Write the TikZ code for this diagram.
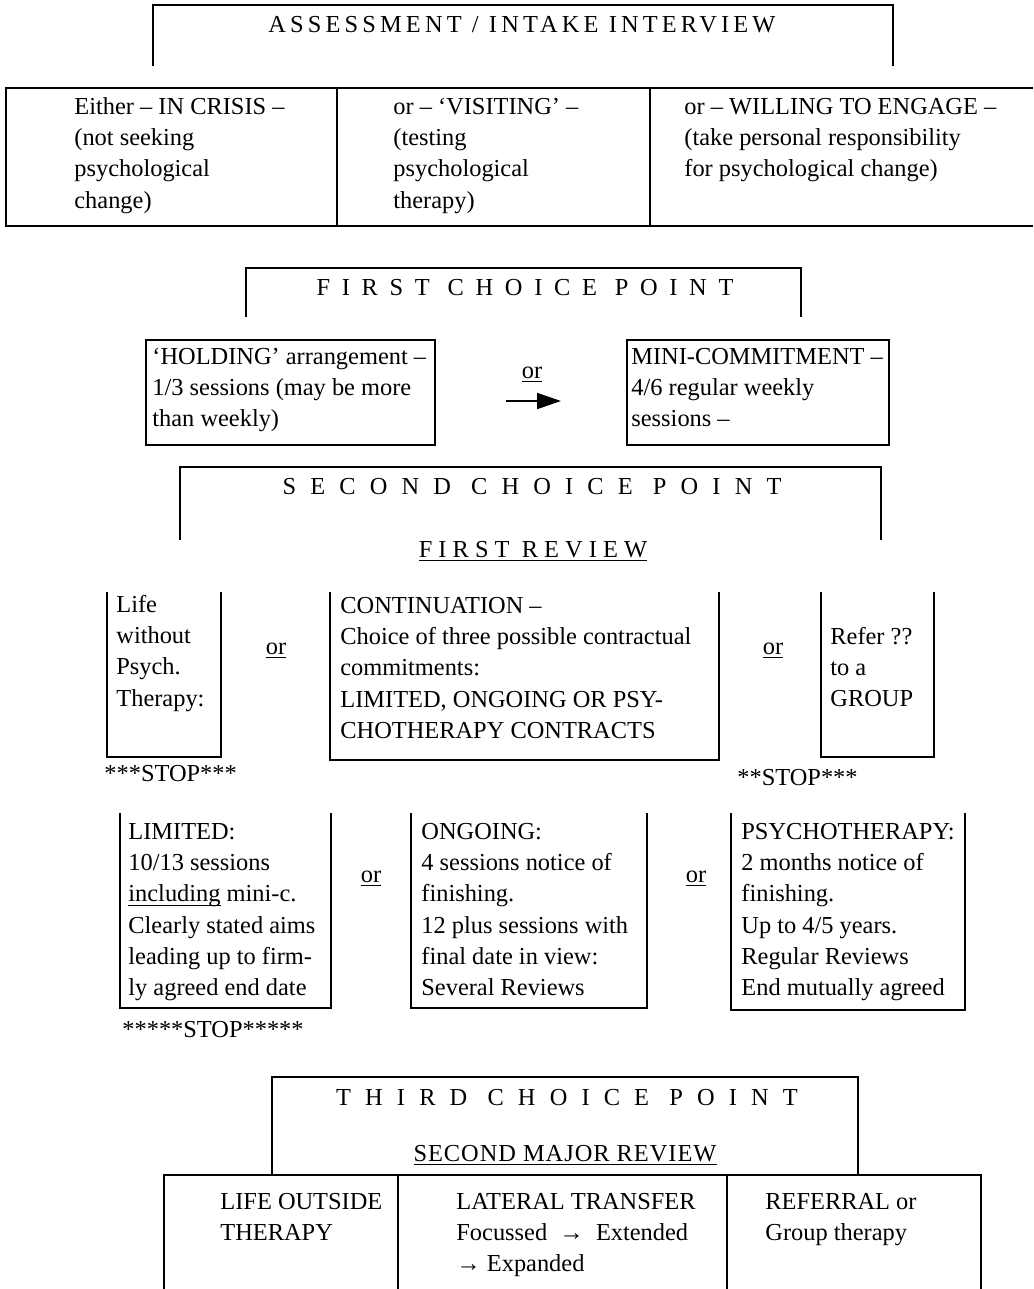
\documentclass[tikz,border=0pt]{standalone}
\usepackage{fontspec}
\setmainfont{Liberation Serif}
\usetikzlibrary{arrows.meta,positioning}
\newcommand{\spaced}[2]{{\addfontfeature{LetterSpace=#1}#2}}
\newcommand{\uln}[1]{\setbox0=\hbox{#1}\rlap{\rule[-2pt]{\wd0}{0.7pt}}\box0\relax}

\begin{document}
\begin{tikzpicture}[x=0.5pt, y=-0.5pt,
  frame/.style={line width=0.9pt, line join=miter},
  txt/.style={anchor=north west, inner sep=0pt, align=left,
    font=\fontsize{12.2}{15.65}\selectfont},
  head/.style={anchor=base, inner sep=0pt,
    font=\fontsize{12.2}{15.65}\selectfont},
  ornode/.style={anchor=base, inner sep=0pt,
    font=\fontsize{12.2}{15.65}\selectfont},
  stop/.style={anchor=base west, inner sep=0pt,
    font=\fontsize{12.2}{15.65}\selectfont},
  arr/.style={-{Triangle[length=12pt, width=8pt]}, line width=0.9pt}
]
\useasboundingbox (0,0) rectangle (1033,1289);

% Assessment
\draw[frame] (153,66) -- (153,5) -- (893,5) -- (893,66);
\node[head] (assess) at (522,33) {\spaced{17}{ASSESSMENT / INTAKE INTERVIEW}};

\draw[frame] (1033,88) -- (6,88) -- (6,226) -- (1033,226);
\draw[frame] (337,88) -- (337,226);
\draw[frame] (650,88) -- (650,226);
\node[txt] (crisis) at (74,92)
  {\strut Either -- IN CRISIS --\\(not seeking\\psychological\\change)};
\node[txt] (visiting) at (393,92)
  {\strut or -- `VISITING' --\\(testing\\psychological\\therapy)};
\node[txt] (engage) at (684,92)
  {\strut or -- WILLING TO ENGAGE --\\(take personal responsibility\\for psychological change)};

% First choice point
\draw[frame] (246,317) -- (246,268) -- (801,268) -- (801,317);
\node[head] (choice1) at (525,295) {\spaced{48}{FIRST CHOICE POINT}};

\draw[frame] (146,340) rectangle (435,445);
\draw[frame] (627,340) rectangle (889,445);
\node[txt] (holding) at (152,342)
  {\strut `HOLDING' arrangement --\\1/3 sessions (may be more\\than weekly)};
\node[txt] (mini) at (631,342)
  {\strut MINI-COMMITMENT --\\4/6 regular weekly\\sessions --};
\node[ornode] (orA) at (532,378) {\uln{or}};
\coordinate (arrS) at (506,401);
\coordinate (arrE) at (561,401);
\draw[arr] (arrS) -- (arrE);

% Second choice point
\draw[frame] (180,540) -- (180,467) -- (881,467) -- (881,540);
\node[head] (choice2) at (532,494) {\spaced{58}{SECOND CHOICE POINT}};
\node[head] (review1) at (533,557) {\uln{\spaced{25}{FIRST REVIEW}}};

\draw[frame] (107,592) -- (107,757) -- (221,757) -- (221,592);
\draw[frame] (330,592) -- (330,760) -- (719,760) -- (719,592);
\draw[frame] (821,592) -- (821,757) -- (934,757) -- (934,592);
\node[txt] (lifewo) at (116,590)
  {\strut Life\\without\\Psych.\\Therapy:};
\node[txt] (contin) at (340,591)
  {\strut CONTINUATION --\\Choice of three possible contractual\\commitments:\\LIMITED, ONGOING OR PSY-\\CHOTHERAPY CONTRACTS};
\node[txt] (refer) at (830,622)
  {\strut Refer ??\\to a\\GROUP};
\node[ornode] (orB) at (276,654) {\uln{or}};
\node[ornode] (orC) at (773,654) {\uln{or}};
\node[stop] (stopA) at (104,781) {***STOP***};
\node[stop] (stopB) at (737,785) {**STOP***};

% Contracts
\draw[frame] (120,813) -- (120,1008) -- (331,1008) -- (331,813);
\draw[frame] (411,813) -- (411,1008) -- (647,1008) -- (647,813);
\draw[frame] (731,813) -- (731,1010) -- (965,1010) -- (965,813);
\node[txt] (limited) at (128,817)
  {\strut LIMITED:\\10/13 sessions\\\uln{including} mini-c.\\Clearly stated aims\\leading up to firm-\\ly agreed end date};
\node[txt] (ongoing) at (421,817)
  {\strut ONGOING:\\4 sessions notice of\\finishing.\\12 plus sessions with\\final date in view:\\Several Reviews};
\node[txt] (psycho) at (741,817)
  {\strut PSYCHOTHERAPY:\\2 months notice of\\finishing.\\Up to 4/5 years.\\Regular Reviews\\End mutually agreed};
\node[ornode] (orD) at (371,882) {\uln{or}};
\node[ornode] (orE) at (696,882) {\uln{or}};
\node[stop] (stopC) at (122,1037) {*****STOP*****};

% Third choice point
\draw[frame] (272,1175) -- (272,1077) -- (858,1077) -- (858,1175);
\node[head] (choice3) at (567,1105) {\spaced{58}{THIRD CHOICE POINT}};
\node[head] (review2) at (565,1161) {\uln{\spaced{4}{SECOND MAJOR REVIEW}}};

\draw[frame] (164,1289) -- (164,1175) -- (981,1175) -- (981,1289);
\draw[frame] (398,1175) -- (398,1289);
\draw[frame] (727,1175) -- (727,1289);
\node[txt] (outside) at (220,1187) {\strut LIFE OUTSIDE\\THERAPY};
\node[txt] (lateral) at (456,1187)
  {\strut LATERAL TRANSFER\\Focussed~ → ~Extended\\→ Expanded};
\node[txt] (referral) at (765,1187) {\strut REFERRAL or\\Group therapy};

\end{tikzpicture}
\end{document}
